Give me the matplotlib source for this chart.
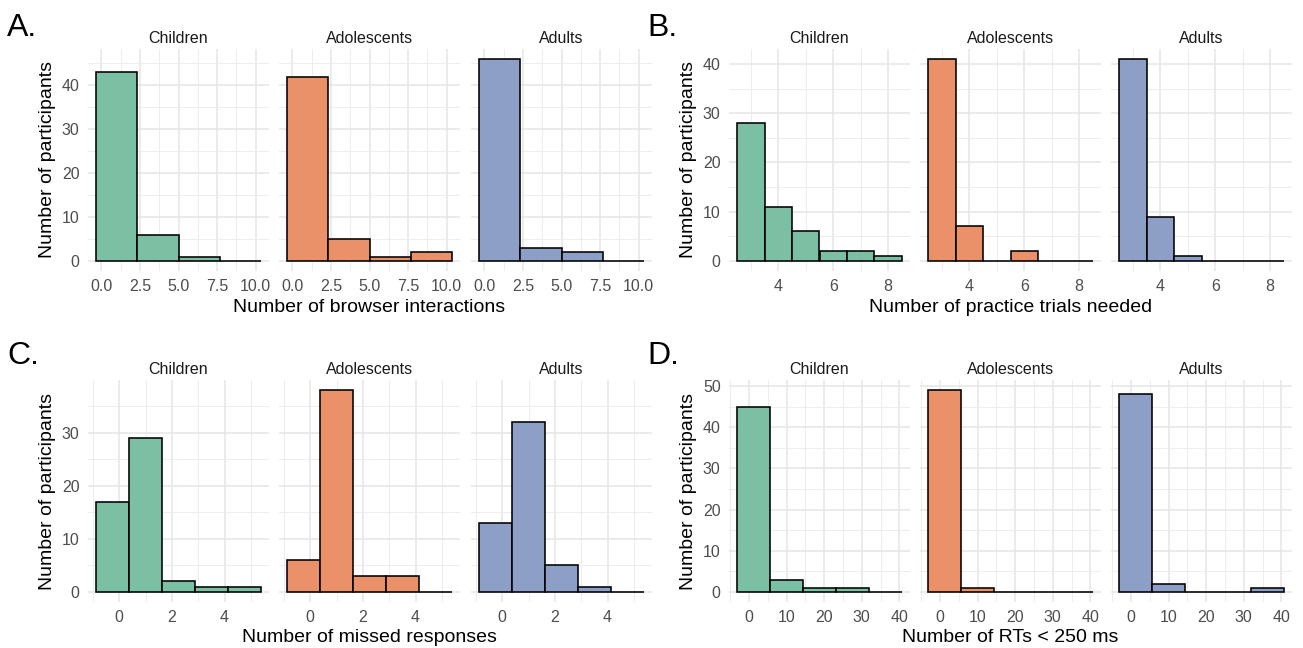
import numpy as np
import matplotlib
matplotlib.use("Agg")
from matplotlib import pyplot as plt
from matplotlib.ticker import MultipleLocator, FixedLocator

plt.rcParams['font.family'] = ['Liberation Sans', 'DejaVu Sans']

groups = ["Children", "Adolescents", "Adults"]
group_colors = ["#7CC0A4", "#EB9169", "#8E9FC7"]

# A. browser interactions
browser_edges = [-0.333, 2.333, 5.0, 7.667, 10.333]
browser_children = [43, 6, 1, 0]
browser_adolescents = [42, 5, 1, 2]
browser_adults = [46, 3, 2, 0]

# B. practice trials
practice_edges = [2.5, 3.5, 4.5, 5.5, 6.5, 7.5, 8.5]
practice_children = [28, 11, 6, 2, 2, 1]
practice_adolescents = [41, 7, 0, 2, 0, 0]
practice_adults = [41, 9, 1, 0, 0, 0]

# C. missed responses
missed_edges = [-0.875, 0.375, 1.625, 2.875, 4.125, 5.375]
missed_children = [17, 29, 2, 1, 1]
missed_adolescents = [6, 38, 3, 3, 0]
missed_adults = [13, 32, 5, 1, 0]

# D. RTs < 250 ms
rt_edges = [-3.125, 5.625, 14.375, 23.125, 31.875, 40.625]
rt_children = [45, 3, 1, 1, 0]
rt_adolescents = [49, 1, 0, 0, 0]
rt_adults = [48, 2, 0, 0, 1]

W, H = 1303, 648
fig = plt.figure(figsize=(W / 100, H / 100), dpi=100)


def px_axes(x0, y0, x1, y1):
    return fig.add_axes([x0 / W, 1 - y1 / H, (x1 - x0) / W, (y1 - y0) / H])


def draw_panel(letter, lx, ly, edges, counts, xmajor, xminor, ystep, xlabel, lefts, top, bottom):
    lo, hi = edges[0], edges[-1]
    xpad = 0.05 * (hi - lo)
    ymax = max(max(c) for c in counts)
    edges = np.array(edges)
    for i, (g, c, col) in enumerate(zip(groups, counts, group_colors)):
        ax = px_axes(lefts[i], top, lefts[i] + 181, bottom)
        ax.bar(edges[:-1], c, width=np.diff(edges), align='edge', color=col,
               edgecolor='black', linewidth=1.15, zorder=3)
        ax.set_xlim(lo - xpad, hi + xpad)
        ax.set_ylim(-0.05 * ymax, 1.05 * ymax)
        ax.xaxis.set_major_locator(FixedLocator(xmajor))
        ax.xaxis.set_minor_locator(FixedLocator(xminor))
        ax.yaxis.set_major_locator(MultipleLocator(ystep))
        ax.yaxis.set_minor_locator(MultipleLocator(ystep / 2))
        ax.grid(which='major', color='#E8E8E8', linewidth=1.2, zorder=0)
        ax.grid(which='minor', color='#EDEDED', linewidth=0.7, zorder=0)
        ax.set_axisbelow(True)
        for s in ax.spines.values():
            s.set_visible(False)
        ax.tick_params(which='both', length=0, labelsize=11.5, labelcolor='#4D4D4D')
        ax.tick_params(axis='x', pad=6)
        ax.tick_params(axis='y', pad=6)
        ax.set_title(g, fontsize=11.5, color='#1A1A1A', pad=4)
        if i == 0:
            ax.set_ylabel("Number of participants", fontsize=14, labelpad=4)
        else:
            ax.set_yticklabels([])
        if i == 1:
            ax.set_xlabel(xlabel, fontsize=14, labelpad=3)
    fig.text(lx / W, 1 - ly / H, letter, fontsize=23, ha='left', va='top')


xa = [88, 279, 471]
xb = [729, 920, 1111]

draw_panel("A.", 7, 13, browser_edges,
           [browser_children, browser_adolescents, browser_adults],
           [0, 2.5, 5, 7.5, 10], [1.25, 3.75, 6.25, 8.75], 10,
           "Number of browser interactions", xa, 49, 271)
draw_panel("B.", 647, 13, practice_edges,
           [practice_children, practice_adolescents, practice_adults],
           [4, 6, 8], [3, 5, 7], 10,
           "Number of practice trials needed", xb, 49, 271)
draw_panel("C.", 7, 341, missed_edges,
           [missed_children, missed_adolescents, missed_adults],
           [0, 2, 4], [-1, 1, 3, 5], 10,
           "Number of missed responses", xa, 380, 602)
draw_panel("D.", 647, 341, rt_edges,
           [rt_children, rt_adolescents, rt_adults],
           [0, 10, 20, 30, 40], [-5, 5, 15, 25, 35], 10,
           "Number of RTs < 250 ms", xb, 380, 602)

fig.savefig("out.png", dpi=100, facecolor='white')
